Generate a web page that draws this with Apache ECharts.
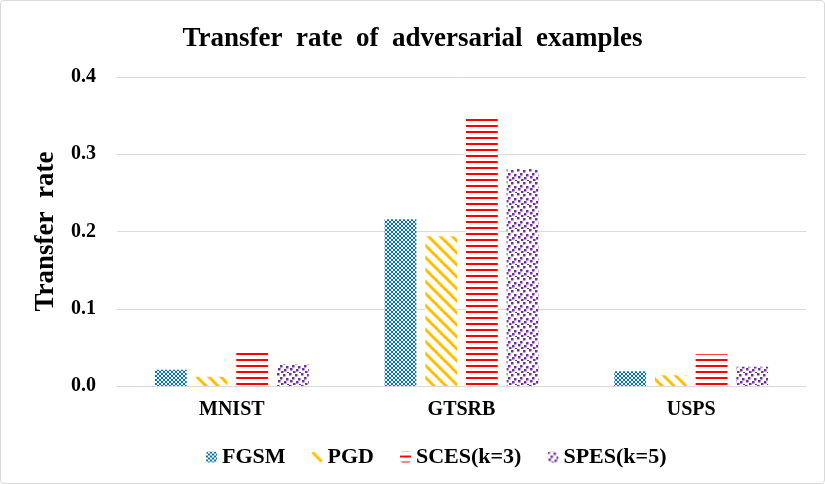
<!DOCTYPE html>
<html>
<head>
<meta charset="utf-8">
<script src="https://cdn.jsdelivr.net/npm/echarts@6/dist/echarts.min.js"></script>
<style>
html,body{margin:0;padding:0;background:#fff;}
#c{position:absolute;left:0;top:0;width:823px;height:482px;border:1px solid #d9d9d9;border-radius:4px;}
</style>
</head>
<body>
<div id="c"></div>
<script>
const categories = ['MNIST', 'GTSRB', 'USPS'];
const seriesNames = ['FGSM', 'PGD', 'SCES(k=3)', 'SPES(k=5)'];
const fgsm = [0.021, 0.216, 0.019];
const pgd = [0.012, 0.194, 0.014];
const sces = [0.043, 0.348, 0.041];
const spes = [0.028, 0.281, 0.025];
const yTicks = [0, 0.1, 0.2, 0.3, 0.4];

function mk(w, h, draw) {
  const c = document.createElement('canvas');
  c.width = w; c.height = h;
  const g = c.getContext('2d');
  draw(g);
  return c;
}
const patFGSM = mk(4, 4, g => {
  g.fillStyle = '#ffffff'; g.fillRect(0,0,4,4);
  g.fillStyle = '#0070C0';
  g.fillRect(0,0,2,2); g.fillRect(2,2,2,2);
});
const patPGD = mk(12, 12, g => {
  g.fillStyle = '#ffffff'; g.fillRect(0,0,12,12);
  g.strokeStyle = '#FFC000'; g.lineWidth = 3;
  g.beginPath(); g.moveTo(-2,-2); g.lineTo(14,14); g.stroke();
  g.beginPath(); g.moveTo(-14,-2); g.lineTo(2,14); g.stroke();
  g.beginPath(); g.moveTo(10,-2); g.lineTo(26,14); g.stroke();
});
const patSCES = mk(8, 6, g => {
  g.fillStyle = '#ffffff'; g.fillRect(0,0,8,6);
  g.fillStyle = '#FF0000'; g.fillRect(0,4,8,2);
});
const patSPES = mk(12, 12, g => {
  g.fillStyle = '#ffffff'; g.fillRect(0,0,12,12);
  g.fillStyle = '#7030A0';
  [[0,0],[6,1],[3,4],[9,5],[1,7],[7,8],[4,10],[10,11]].forEach(p => g.fillRect(p[0],p[1],2.5,2.5));
});
const pats = [patFGSM, patPGD, patSCES, patSPES];
const datas = [fgsm, pgd, sces, spes];

const font = '"Liberation Serif", "Times New Roman", serif';
const chart = echarts.init(document.getElementById('c'));
chart.setOption({
  animation: false,
  title: {
    text: 'Transfer  rate  of  adversarial  examples',
    left: 'center', top: 20,
    textStyle: { fontFamily: font, fontWeight: 'bold', fontSize: 27, color: '#000' }
  },
  legend: {
    bottom: 10, left: 200,
    itemWidth: 11, itemHeight: 11, itemGap: 26,
    textStyle: { fontFamily: font, fontWeight: 'bold', fontSize: 22, color: '#000' },
    data: seriesNames
  },
  grid: { left: 116, right: 18, top: 76, bottom: 97 },
  xAxis: {
    type: 'category', data: categories,
    axisLine: { lineStyle: { color: '#d9d9d9', width: 1 } },
    axisTick: { show: false },
    axisLabel: { fontFamily: font, fontWeight: 'bold', fontSize: 20, color: '#000', margin: 14 }
  },
  yAxis: {
    type: 'value', min: 0, max: 0.4, interval: 0.1,
    name: 'Transfer  rate', nameLocation: 'middle', nameGap: 57,
    nameTextStyle: { fontFamily: font, fontWeight: 'bold', fontSize: 27, color: '#000' },
    axisLine: { show: false }, axisTick: { show: false },
    splitLine: { lineStyle: { color: '#d9d9d9', width: 1 } },
    axisLabel: { fontFamily: font, fontWeight: 'bold', fontSize: 20, color: '#000', margin: 21,
      formatter: v => yTicks.indexOf(+v.toFixed(1)) >= 0 ? v.toFixed(1) : '' }
  },
  series: seriesNames.map((n, i) => ({
    name: n, type: 'bar', data: datas[i],
    barGap: '28%', barCategoryGap: '33%',
    itemStyle: { color: { image: pats[i], repeat: 'repeat' } }
  }))
});
</script>
</body>
</html>
